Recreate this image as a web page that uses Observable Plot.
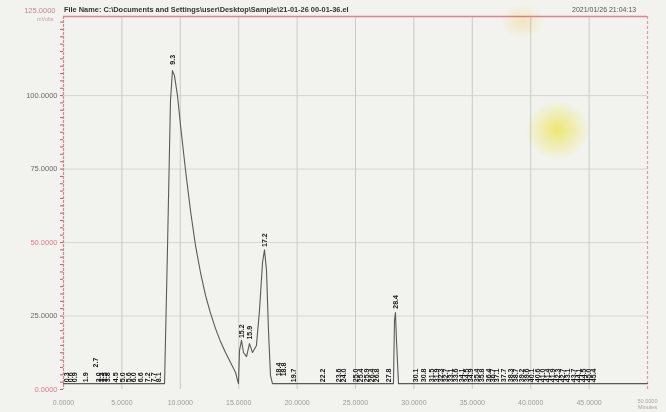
<!DOCTYPE html>
<html><head><meta charset="utf-8">
<script src="https://cdn.jsdelivr.net/npm/d3@7"></script>
<script src="https://cdn.jsdelivr.net/npm/@observablehq/plot@0.6"></script>
<style>
html,body{margin:0;padding:0;background:#f2f3ee;width:666px;height:412px;overflow:hidden}
#wrap{position:relative;width:666px;height:412px;font-family:"Liberation Sans","DejaVu Sans",sans-serif}
#wrap svg{position:absolute;left:0;top:0;background:transparent;overflow:visible}
.t{position:absolute;white-space:nowrap;line-height:1}
.blob{position:absolute;border-radius:50%;mix-blend-mode:multiply;pointer-events:none}
</style></head>
<body><div id="wrap"></div>
<script>
// ---- data ----
const fileTitle = "File Name: C:\\Documents and Settings\\user\\Desktop\\Sample\\21-01-26 00-01-36.el";
const timeStamp = "2021/01/26 21:04:13";
const yUnit = "mVolts";
const xUnit = "Minutes";

const timeMin = [0, 8.56, 8.65, 8.90, 9.16, 9.33, 9.50, 9.76, 10.02, 10.45,
  10.87, 11.30, 11.73, 12.16, 12.59, 13.01, 13.44, 13.87, 14.30, 14.73,
  14.90, 14.98, 15.07, 15.24, 15.41, 15.67, 15.92, 16.18, 16.52, 16.78,
  17.04, 17.21, 17.38, 17.55, 17.72, 17.89, 28.25, 28.34, 28.42, 28.51,
  28.68, 50];
const signalMv = [2.0, 2.0, 2.0, 47.3, 98.3, 108.5, 106.8, 100.0, 89.8, 74.5,
  60.9, 49.0, 39.8, 32.0, 25.9, 20.8, 16.3, 12.6, 9.2, 5.8,
  3.1, 2.0, 13.3, 16.7, 12.6, 11.2, 15.6, 12.6, 15.0, 26.9,
  43.2, 47.5, 40.5, 20.1, 4.8, 2.0, 2.0, 23.5, 26.2, 16.7,
  2.0, 2.0];

const peakTime = [0.26, 0.60, 0.94, 1.88, 2.74, 3.00, 3.25, 3.51, 3.77, 4.45,
  5.05, 5.57, 5.99, 6.59, 7.19, 7.71, 8.13, 9.33, 15.24, 15.92,
  17.21, 18.41, 18.84, 19.69, 22.18, 23.55, 23.97, 25.00, 25.43, 25.94,
  26.37, 26.80, 27.83, 28.42, 30.14, 30.82, 31.51, 31.94, 32.28, 32.71,
  33.13, 33.56, 34.08, 34.50, 34.85, 35.36, 35.79, 36.39, 36.73, 37.07,
  37.67, 38.27, 38.70, 39.21, 39.64, 40.07, 40.58, 41.01, 41.44, 41.87,
  42.30, 42.72, 43.15, 43.67, 44.09, 44.52, 44.95, 45.38];
const peakLabelMv = [2.5, 2.5, 2.5, 2.5, 7.5, 2.5, 2.5, 2.5, 2.5, 2.5,
  2.5, 2.5, 2.5, 2.5, 2.5, 2.5, 2.5, 110.5, 17.5, 17.0,
  48.5, 4.5, 4.5, 2.5, 2.5, 2.5, 2.5, 2.5, 2.5, 2.5,
  2.5, 2.5, 2.5, 27.5, 2.5, 2.5, 2.5, 2.5, 2.5, 2.5,
  2.5, 2.5, 2.5, 2.5, 2.5, 2.5, 2.5, 2.5, 2.5, 2.5,
  2.5, 2.5, 2.5, 2.5, 2.5, 2.5, 2.5, 2.5, 2.5, 2.5,
  2.5, 2.5, 2.5, 2.5, 2.5, 2.5, 2.5, 2.5];

const xTickValues = [0, 5, 10, 15, 20, 25, 30, 35, 40, 45];
const xTickLabels = ["0.0000", "5.0000", "10.0000", "15.0000", "20.0000", "25.0000", "30.0000", "35.0000", "40.0000", "45.0000"];
const xEnd = 50;
const xEndLabel = "50.0000";
const yTickValues = [0, 25, 50, 75, 100];
const yTickLabels = ["0.0000", "25.0000", "50.0000", "75.0000", "100.0000"];
const yTop = 125;
const yTopLabel = "125.0000";

// ---- build ----
const signal = timeMin.map((t, i) => ({t, v: signalMv[i]}));
const peaks = peakTime.map((t, i) => ({t, v: peakLabelMv[i], label: d3.format(".1f")(t)}));
const yTicks = yTickValues.map((v, i) => ({v, label: yTickLabels[i]}));
const yLabelColor = ["#e07a88", "#6a6a6a", "#e07a88", "#6a6a6a", "#6a6a6a"];
const pink = "#e6808e";

const chart = Plot.plot({
  width: 666, height: 412,
  marginLeft: 63, marginRight: 19, marginTop: 16, marginBottom: 23,
  style: {background: "transparent", fontFamily: "Liberation Sans, DejaVu Sans, sans-serif"},
  x: {domain: [0, xEnd], label: null},
  y: {domain: [0, 126.9], label: null},
  color: {type: "identity"},
  marks: [
    Plot.gridX(xTickValues.slice(1), {stroke: "#b9bbb6", strokeOpacity: 0.7, strokeWidth: 1}),
    Plot.gridY(yTickValues.slice(1), {stroke: "#c3c5c0", strokeOpacity: 0.6, strokeWidth: 1}),
    Plot.ruleY([126.9], {stroke: pink, strokeWidth: 1.3}),
    Plot.ruleX([0], {stroke: pink, strokeWidth: 1.2, strokeDasharray: "3,1"}),
    Plot.ruleX([xEnd], {stroke: pink, strokeWidth: 1.2, strokeDasharray: "3,2", strokeOpacity: 0.8}),
    Plot.axisY(d3.range(0, 127, 2.5), {tickSize: 3, stroke: "#b06070", tickFormat: () => "", label: null}),
    Plot.text(yTicks, {x: 0, y: "v", text: "label", dx: -6, textAnchor: "end", fontSize: 7.5,
      fill: (d, i) => yLabelColor[i]}),
    Plot.text([yTop], {x: 0, y: 126.9, text: () => yTopLabel, dx: -8, dy: -6, textAnchor: "end", fontSize: 7.5, fill: "#c08a95"}),
    Plot.text([yUnit], {x: 0, y: 126.9, text: d => d, dx: -10, dy: 3, textAnchor: "end", fontSize: 5.5, fill: "#c9a0a8"}),
    Plot.axisX(xTickValues, {tickSize: 0, tickPadding: 11, fontSize: 7, fill: "#9a9c98",
      tickFormat: (d, i) => xTickLabels[i], label: null}),
    Plot.text([xEnd], {x: d => d, frameAnchor: "bottom", dy: 9, lineAnchor: "top",
      text: () => xEndLabel + "\n" + xUnit, fontSize: 5.5, lineHeight: 1.1, fill: "#b0a0a4"}),
    Plot.line(signal, {x: "t", y: "v", stroke: "#5a5a5a", strokeWidth: 1.1}),
    Plot.text(peaks, {x: "t", y: "v", text: "label", rotate: -90, textAnchor: "start",
      fontSize: 7, fontWeight: "bold", fill: "#151515"})
  ]
});

const wrap = document.getElementById("wrap");
wrap.appendChild(chart);

function addText(txt, css) {
  const d = document.createElement("div");
  d.className = "t";
  d.textContent = txt;
  Object.assign(d.style, css);
  wrap.appendChild(d);
}
addText(fileTitle, {left: "64px", top: "6px", fontSize: "7.4px", fontWeight: "bold", color: "#333"});
addText(timeStamp, {left: "572px", top: "6px", fontSize: "7px", color: "#555"});

function blob(l, t, w, h, c) {
  const b = document.createElement("div");
  b.className = "blob";
  Object.assign(b.style, {left: l + "px", top: t + "px", width: w + "px", height: h + "px",
    background: `radial-gradient(ellipse at center, ${c} 0%, rgba(255,255,255,0) 70%)`});
  wrap.appendChild(b);
}
blob(525, 100, 65, 60, "rgba(250,238,80,0.75)");
blob(500, 4, 45, 35, "rgba(250,225,140,0.45)");
</script>
</body></html>
